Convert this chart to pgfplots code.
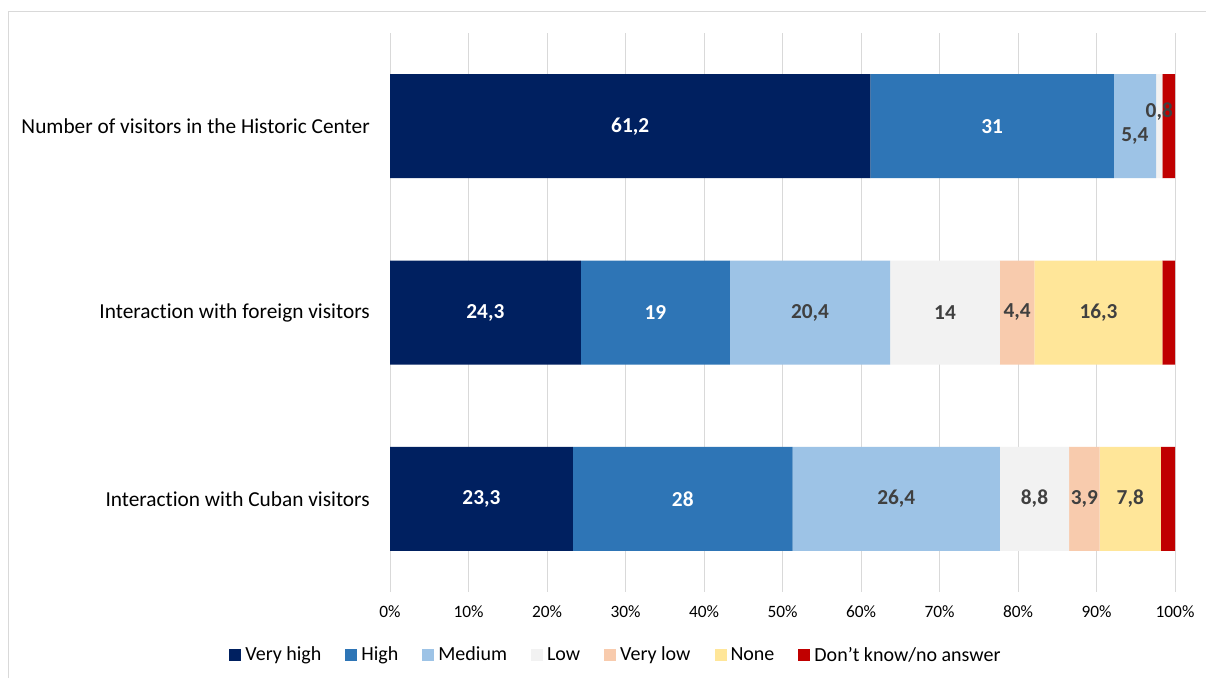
\documentclass[border=0pt]{standalone}
\usepackage{fontspec}
\setmainfont{Carlito}[Ligatures={NoCommon}]
\usepackage{pgfplots}
\pgfplotsset{compat=1.18}

\definecolor{vhigh}{HTML}{002060}
\definecolor{high}{HTML}{2E75B6}
\definecolor{medium}{HTML}{9DC3E6}
\definecolor{low}{HTML}{F2F2F2}
\definecolor{vlow}{HTML}{F8CBAD}
\definecolor{nonecol}{HTML}{FFE699}
\definecolor{dk}{HTML}{C00000}
\definecolor{gridgray}{HTML}{D9D9D9}
\definecolor{lbl}{HTML}{404040}

\pgfplotsset{
  seglabel/.style={
    nodes near coords={\pgfmathprintnumber[use comma,assume math mode=true]{\pgfplotspointmeta}},
    every node near coord/.append style={font=\fontsize{16}{19}\selectfont\bfseries, text=#1,
      anchor=center, inner sep=0pt},
  },
}

\begin{document}
\begin{tikzpicture}
\useasboundingbox (0,0) rectangle (904.5pt,508.5pt);
\fill[white] (0,0) rectangle (904.5pt,508.5pt);
\draw[gridgray, line width=0.75pt] (6pt,0) -- (6pt,499.5pt) -- (904.5pt,499.5pt);
\begin{axis}[
  at={(292.5pt,64.5pt)}, anchor=south west,
  scale only axis, width=588.75pt, height=419.25pt,
  xbar stacked, bar width=78pt,
  xmin=0, xmax=100, ymin=-0.5, ymax=2.5, y dir=reverse,
  ytick={0,1,2},
  yticklabels={Number of visitors in the Historic Center, Interaction with foreign visitors, Interaction with Cuban visitors},
  xtick={0,10,...,100},
  xticklabel={\pgfmathprintnumber[assume math mode=true]{\tick}\%},
  xmajorgrids, ymajorgrids=false,
  grid style={gridgray, line width=0.75pt},
  axis line style={draw=none}, major tick length=0pt,
  xticklabel style={font=\fontsize{13}{15}\selectfont, anchor=center, yshift=-15pt, inner sep=0pt},
  yticklabel style={font=\fontsize{16}{19}\selectfont, anchor=east, xshift=-15pt, inner sep=0pt},
  visualization depends on=rawy \as \rawy,
  legend style={at={(0.2866,-0.1127)}, anchor=center, draw=none, legend columns=7,
    font=\fontsize{15}{18}\selectfont,
    /tikz/every odd column/.append style={column sep=3pt},
    /tikz/every even column/.append style={column sep=18pt},
    nodes={inner sep=0pt}},
  legend image code/.code={\fill[#1] (0pt,-4.5pt) rectangle (9pt,4.5pt);},
]
\addplot[fill=vhigh, draw=none, seglabel=white] coordinates {(61.2,0) (24.3,1) (23.3,2)};
\addplot[fill=high, draw=none, seglabel=white] coordinates {(31,0) (19,1) (28,2)};
\addplot[fill=medium, draw=none, seglabel=lbl,
  every node near coord/.append style={yshift={(\rawy<0.5)*(-7.5)}}] coordinates {(5.4,0) (20.4,1) (26.4,2)};
\addplot[fill=low, draw=none, seglabel=lbl,
  every node near coord/.append style={yshift={(\rawy<0.5)*(11.25)}}] coordinates {(0.8,0) (14,1) (8.8,2)};
\addplot[fill=vlow, draw=none, seglabel=lbl] coordinates {(0,0) (4.4,1) (3.9,2)};
\addplot[fill=nonecol, draw=none, seglabel=lbl] coordinates {(0,0) (16.3,1) (7.8,2)};
\addplot[fill=dk, draw=none] coordinates {(1.6,0) (1.6,1) (1.8,2)};
\legend{Very high, High, Medium, Low, Very low, None, Don't know/no answer}
\end{axis}
\end{tikzpicture}
\end{document}
